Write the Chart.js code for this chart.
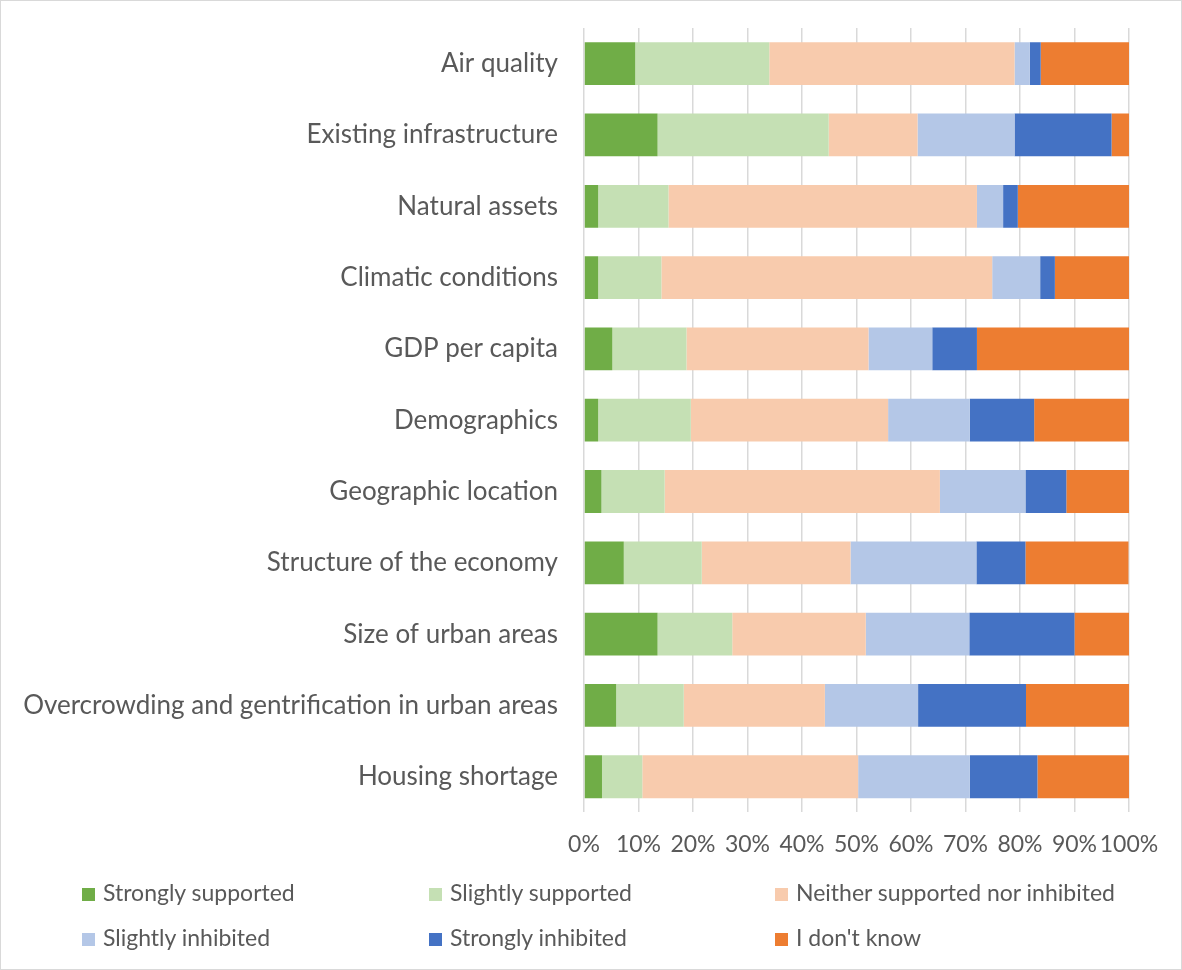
<!DOCTYPE html>
<html>
<head>
<meta charset="utf-8">
<script src="https://cdn.jsdelivr.net/npm/chart.js@4.4.0/dist/chart.umd.min.js"></script>
<style>
  body { margin: 0; background: #fff; }
  #wrap { position: relative; width: 1182px; height: 970px; box-sizing: border-box; border: 1px solid #d9d9d9; }
  #myChart { position: absolute; left: 0; top: 0; }
  #legend { position: absolute; left: 0; top: 878px; width: 1180px; font-family: Lato, sans-serif; font-size: 23px; color: #595959; }
  .item { position: absolute; white-space: nowrap; line-height: 26px; }
  .box { display: inline-block; width: 13px; height: 13px; margin-right: 8px; vertical-align: 0px; }
</style>
</head>
<body>
<div id="wrap">
  <canvas id="myChart" width="1180" height="968"></canvas>
  <div id="legend"></div>
</div>
<script>
// categories, top to bottom
const categories = [
  'Air quality',
  'Existing infrastructure',
  'Natural assets',
  'Climatic conditions',
  'GDP per capita',
  'Demographics',
  'Geographic location',
  'Structure of the economy',
  'Size of urban areas',
  'Overcrowding and gentrification in urban areas',
  'Housing shortage'
];

// shares in %
const stronglySupported = [9.4, 13.5, 2.6, 2.6, 5.2, 2.6, 3.2, 7.3, 13.5, 5.9, 3.3];
const slightlySupported = [24.6, 31.4, 12.9, 11.6, 13.6, 17.0, 11.6, 14.3, 13.7, 12.4, 7.4];
const neitherNor        = [45.0, 16.3, 56.6, 60.7, 33.4, 36.2, 50.5, 27.3, 24.5, 25.9, 39.6];
const slightlyInhibited = [2.8, 17.8, 4.8, 8.8, 11.7, 15.0, 15.7, 23.1, 19.0, 17.1, 20.5];
const stronglyInhibited = [2.0, 17.8, 2.7, 2.7, 8.2, 11.8, 7.5, 9.0, 19.3, 19.8, 12.4];
const dontKnow          = [16.3, 3.2, 20.4, 13.6, 27.9, 17.5, 11.5, 18.9, 10.0, 19.0, 16.8];

const seriesNames = ['Strongly supported', 'Slightly supported', 'Neither supported nor inhibited',
                     'Slightly inhibited', 'Strongly inhibited', "I don't know"];
const seriesColors = ['#70ad47', '#c5e0b4', '#f8cbad', '#b4c7e7', '#4472c4', '#ed7d31'];
const seriesData = [stronglySupported, slightlySupported, neitherNor, slightlyInhibited, stronglyInhibited, dontKnow];

const ctx = document.getElementById('myChart');

new Chart(ctx, {
  type: 'bar',
  data: {
    labels: categories,
    datasets: seriesNames.map((name, i) => ({
      label: name,
      data: seriesData[i],
      backgroundColor: seriesColors[i],
      borderWidth: 0,
      barPercentage: 0.6,
      categoryPercentage: 1
    }))
  },
  options: {
    indexAxis: 'y',
    responsive: false,
    animation: false,
    layout: { padding: { top: 27, right: 52, bottom: 93, left: 0 } },
    plugins: {
      legend: { display: false },
      tooltip: { enabled: false }
    },
    scales: {
      x: {
        stacked: true,
        min: 0,
        max: 100,
        grid: { color: '#d9d9d9', lineWidth: 1.5, drawTicks: false },
        border: { display: false },
        ticks: {
          stepSize: 10,
          padding: 18,
          maxRotation: 0,
          autoSkip: false,
          color: '#595959',
          font: { family: 'Lato', size: 23 },
          callback: function(value) {
            return value + '%';
          }
        }
      },
      y: {
        stacked: true,
        grid: { display: false, drawTicks: false },
        border: { display: false },
        ticks: {
          padding: 26,
          color: '#595959',
          font: { family: 'Lato', size: 26 }
        },
        afterFit: function(scale) {
          scale.width = 583;
          scale.paddingTop = 0;
          scale.paddingBottom = 0;
        }
      }
    }
  }
});

// legend in three columns like the original
const legendEl = document.getElementById('legend');
const colX = [81, 428, 774];
seriesNames.forEach((name, i) => {
  const item = document.createElement('div');
  item.className = 'item';
  item.style.left = colX[i % 3] + 'px';
  item.style.top = (Math.floor(i / 3) * 45) + 'px';
  item.innerHTML = '<span class="box" style="background:' + seriesColors[i] + '"></span>' + name;
  legendEl.appendChild(item);
});
</script>
</body>
</html>
